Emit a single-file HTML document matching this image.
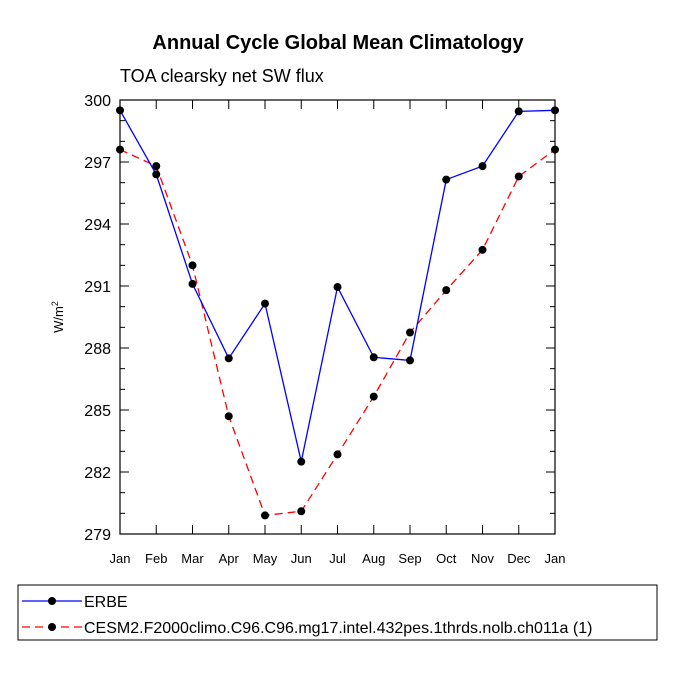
<!DOCTYPE html>
<html><head><meta charset="utf-8"><style>
body{margin:0;background:#fff;}
svg text{font-family:"Liberation Sans",Arial,sans-serif;fill:#000;}
</style></head><body>
<svg id="chart" width="675" height="675" viewBox="0 0 675 675" xmlns="http://www.w3.org/2000/svg">
<text x="338" y="49" text-anchor="middle" font-size="20" font-weight="bold">Annual Cycle Global Mean Climatology</text>
<text x="120" y="82" font-size="18">TOA clearsky net SW flux</text>
<g id="axes"></g>
<g id="series"></g>
<rect x="18" y="585" width="639" height="55" fill="none" stroke="#000" stroke-width="1"/>
<g>
<line x1="22" y1="601" x2="82" y2="601" stroke="#0000ff" stroke-width="1.3"/>
<circle cx="52" cy="601" r="4" fill="#000"/>
<text x="84" y="607" font-size="16">ERBE</text>
</g>
<g>
<line x1="22" y1="627" x2="82" y2="627" stroke="#ff0000" stroke-width="1.3" stroke-dasharray="8,5"/>
<circle cx="52" cy="627" r="4" fill="#000"/>
<text x="84" y="633" font-size="16">CESM2.F2000climo.C96.C96.mg17.intel.432pes.1thrds.nolb.ch011a (1)</text>
</g>
</svg>
<script>
const months = ["Jan","Feb","Mar","Apr","May","Jun","Jul","Aug","Sep","Oct","Nov","Dec","Jan"];
const erbeValues = [299.5,296.4,291.1,287.5,290.15,282.5,290.95,287.55,287.4,296.15,296.8,299.45,299.5];
const cesmValues = [297.6,296.8,292.0,284.7,279.9,280.1,282.85,285.65,288.75,290.8,292.75,296.3,297.6];
const yTicks = [279,282,285,288,291,294,297,300];
const L=120,R=555,T=100,B=534,yMin=279,yMax=300;
const ns="http://www.w3.org/2000/svg";
const xs=i=>L+(R-L)*i/(months.length-1);
const ys=v=>B-(v-yMin)/(yMax-yMin)*(B-T);
function mk(t,a,p){const e=document.createElementNS(ns,t);for(const k in a)e.setAttribute(k,a[k]);p.appendChild(e);return e;}
const ax=document.getElementById('axes'),se=document.getElementById('series');
const frame=mk('rect',{x:L,y:T,width:R-L,height:B-T,fill:'none',stroke:'#000','stroke-width':1.2},ax);


for(let v=yMin;v<=yMax;v++){
  const major=(v-yMin)%3===0, len=major?9:5, y=ys(v);
  mk('line',{x1:L,y1:y,x2:L+len,y2:y,stroke:'#000'},ax);
  mk('line',{x1:R,y1:y,x2:R-len,y2:y,stroke:'#000'},ax);
}
yTicks.forEach(v=>{
  const t=mk('text',{x:L-9,y:ys(v)+6,'text-anchor':'end','font-size':16},ax);
  t.textContent=v;
  
  
});
months.forEach((m,i)=>{
  const x=xs(i);
  mk('line',{x1:x,y1:B,x2:x,y2:B-9,stroke:'#000'},ax);
  mk('line',{x1:x,y1:T,x2:x,y2:T+9,stroke:'#000'},ax);
  const t=mk('text',{x:x,y:B+29,'text-anchor':'middle','font-size':13},ax);
  t.textContent=m;
  
  
});
const yt=mk('text',{x:0,y:0,'font-size':13,'text-anchor':'middle',transform:'translate(63,317) rotate(-90)'},ax);
yt.innerHTML='W/m<tspan font-size="9" dy="-5">2</tspan>';


function draw(vals,color,dash,name){
  const pts=vals.map((v,i)=>xs(i)+','+ys(v)).join(' ');
  const pl=mk('polyline',{points:pts,fill:'none',stroke:color,'stroke-width':1.3},se);
  if(dash)pl.setAttribute('stroke-dasharray',dash);
  
  
  vals.forEach((v,i)=>{
    const c=mk('circle',{cx:xs(i),cy:ys(v),r:4,fill:'#000'},se);
    
    
  });
}
draw(cesmValues,'#ff0000','8,5','cesm');
draw(erbeValues,'#0000ff',null,'erbe');
</script>
</body></html>
